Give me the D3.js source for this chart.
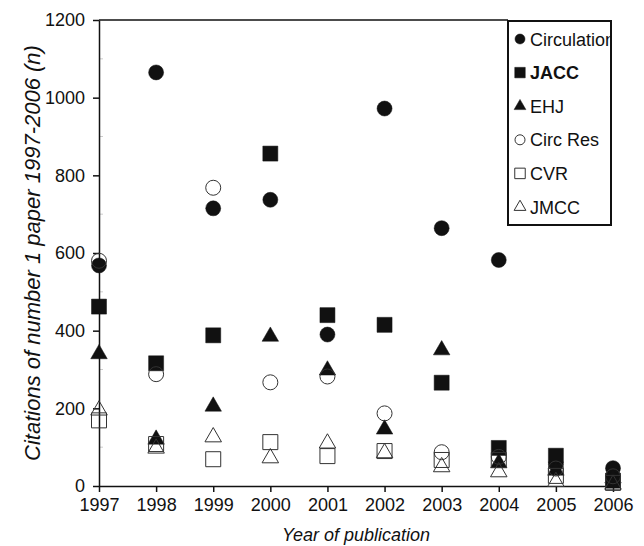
<!DOCTYPE html>
<html>
<head>
<meta charset="utf-8">
<script src="https://cdn.jsdelivr.net/npm/d3@7"></script>
<style>
  body { margin: 0; background: #fff; }
  text { font-family: "Liberation Sans", Arial, sans-serif; fill: #111; }
</style>
</head>
<body>
<svg width="644" height="546"></svg>
<script>
var years = [1997, 1998, 1999, 2000, 2001, 2002, 2003, 2004, 2005, 2006];
var circulation = [568, 1065, 715, 737, 390, 972, 664, 582, 56, 46];
var jacc = [462, 316, 388, 856, 440, 415, 266, 98, 78, 14];
var ehj = [340, 120, 205, 385, 298, 146, 350, 59, 40, 20];
var circRes = [580, 288, 768, 267, 282, 187, 87, 75, 45, 25];
var cvr = [169, 108, 69, 113, 77, 90, 67, 67, 26, 8];
var jmcc = [195, 97, 126, 72, 110, 85, 49, 36, 11, 4];
var yTicks = [0, 200, 400, 600, 800, 1000, 1200];

var series = [
  {name: "Circulation", values: circulation, shape: d3.symbolCircle, filled: true, bold: false},
  {name: "JACC", values: jacc, shape: d3.symbolSquare, filled: true, bold: true},
  {name: "EHJ", values: ehj, shape: d3.symbolTriangle, filled: true, bold: false},
  {name: "Circ Res", values: circRes, shape: d3.symbolCircle, filled: false, bold: false},
  {name: "CVR", values: cvr, shape: d3.symbolSquare, filled: false, bold: false},
  {name: "JMCC", values: jmcc, shape: d3.symbolTriangle, filled: false, bold: false}
];

var svg = d3.select("svg");

var x = d3.scaleLinear().domain([1997, 2006]).range([99, 613]);
var y = d3.scaleLinear().domain([0, 1200]).range([486, 20]);

// marker size (area) per shape
function bigSize(shape) {
  if (shape === d3.symbolCircle) return Math.PI * 7.5 * 7.5;
  if (shape === d3.symbolSquare) return 225;
  return 118;
}
function smallSize(shape) {
  if (shape === d3.symbolCircle) return Math.PI * 5 * 5;
  if (shape === d3.symbolSquare) return 110;
  return 60;
}

// minor ticks, faint, inside the axis
svg.append("g")
  .selectAll("line")
  .data(d3.range(100, 1200, 200))
  .enter().append("line")
  .attr("x1", x(1997)).attr("x2", x(1997) + 4)
  .attr("y1", function(d) { return y(d); })
  .attr("y2", function(d) { return y(d); })
  .attr("stroke", "#ccc")
  .attr("stroke-width", 1);

// top frame line
svg.append("line")
  .attr("x1", x(1997)).attr("x2", 508)
  .attr("y1", y(1200)).attr("y2", y(1200))
  .attr("stroke", "#111").attr("stroke-width", 1.5);

var yAxis = svg.append("g")
  .attr("transform", "translate(" + x(1997) + ",0)")
  .call(d3.axisLeft(y).tickValues(yTicks).tickFormat(d3.format("d")).tickSize(6).tickSizeOuter(0).tickPadding(8));

var xAxis = svg.append("g")
  .attr("transform", "translate(0," + y(0) + ")")
  .call(d3.axisBottom(x).tickValues(years).tickFormat(d3.format("d")).tickSize(6).tickSizeOuter(0).tickPadding(6));

[yAxis, xAxis].forEach(function(a) {
  a.select(".domain").attr("stroke", "#111").attr("stroke-width", 1.5);
  a.selectAll(".tick line").attr("stroke", "#111").attr("stroke-width", 1.5);
  a.selectAll(".tick text").attr("font-size", 18).attr("fill", "#111")
    .style("font-family", "'Liberation Sans', Arial, sans-serif");
});

// markers
series.forEach(function(s) {
  svg.append("g")
    .selectAll("path")
    .data(s.values)
    .enter().append("path")
    .attr("d", d3.symbol().type(s.shape).size(bigSize(s.shape)))
    .attr("transform", function(d, i) {
      return "translate(" + x(years[i]) + "," + y(d) + ")";
    })
    .attr("fill", s.filled ? "#111" : "none")
    .attr("stroke", s.filled ? "#111" : "#333")
    .attr("stroke-width", s.filled ? 0.5 : 1);
});

// axis titles
svg.append("text")
  .attr("x", 356).attr("y", 541)
  .attr("text-anchor", "middle")
  .attr("font-size", 18)
  .attr("font-style", "italic")
  .text("Year of publication");

svg.append("text")
  .attr("transform", "translate(40," + y(600) + ") rotate(-90)")
  .attr("text-anchor", "middle")
  .attr("font-size", 22)
  .attr("font-style", "italic")
  .text("Citations of number 1 paper 1997-2006 (n)");

// legend
var legend = svg.append("g");
legend.append("rect")
  .attr("x", 508).attr("y", 21)
  .attr("width", 103).attr("height", 204)
  .attr("fill", "#fff")
  .attr("stroke", "#111").attr("stroke-width", 2);

svg.append("clipPath").attr("id", "legclip")
  .append("rect").attr("x", 509).attr("y", 22).attr("width", 101).attr("height", 202);

var item = legend.append("g").attr("clip-path", "url(#legclip)")
  .selectAll("g")
  .data(series)
  .enter().append("g")
  .attr("transform", function(d, i) { return "translate(520," + (39 + i * 33.6) + ")"; });

item.append("path")
  .attr("d", function(d) { return d3.symbol().type(d.shape).size(smallSize(d.shape))(); })
  .attr("fill", function(d) { return d.filled ? "#111" : "none"; })
  .attr("stroke", function(d) { return d.filled ? "#111" : "#333"; })
  .attr("stroke-width", function(d) { return d.filled ? 0.5 : 1; });

item.append("text")
  .attr("x", 10).attr("y", 6.5)
  .attr("font-size", 18)
  .attr("font-weight", function(d) { return d.bold ? "bold" : "normal"; })
  .text(function(d) { return d.name; });
</script>
</body>
</html>
